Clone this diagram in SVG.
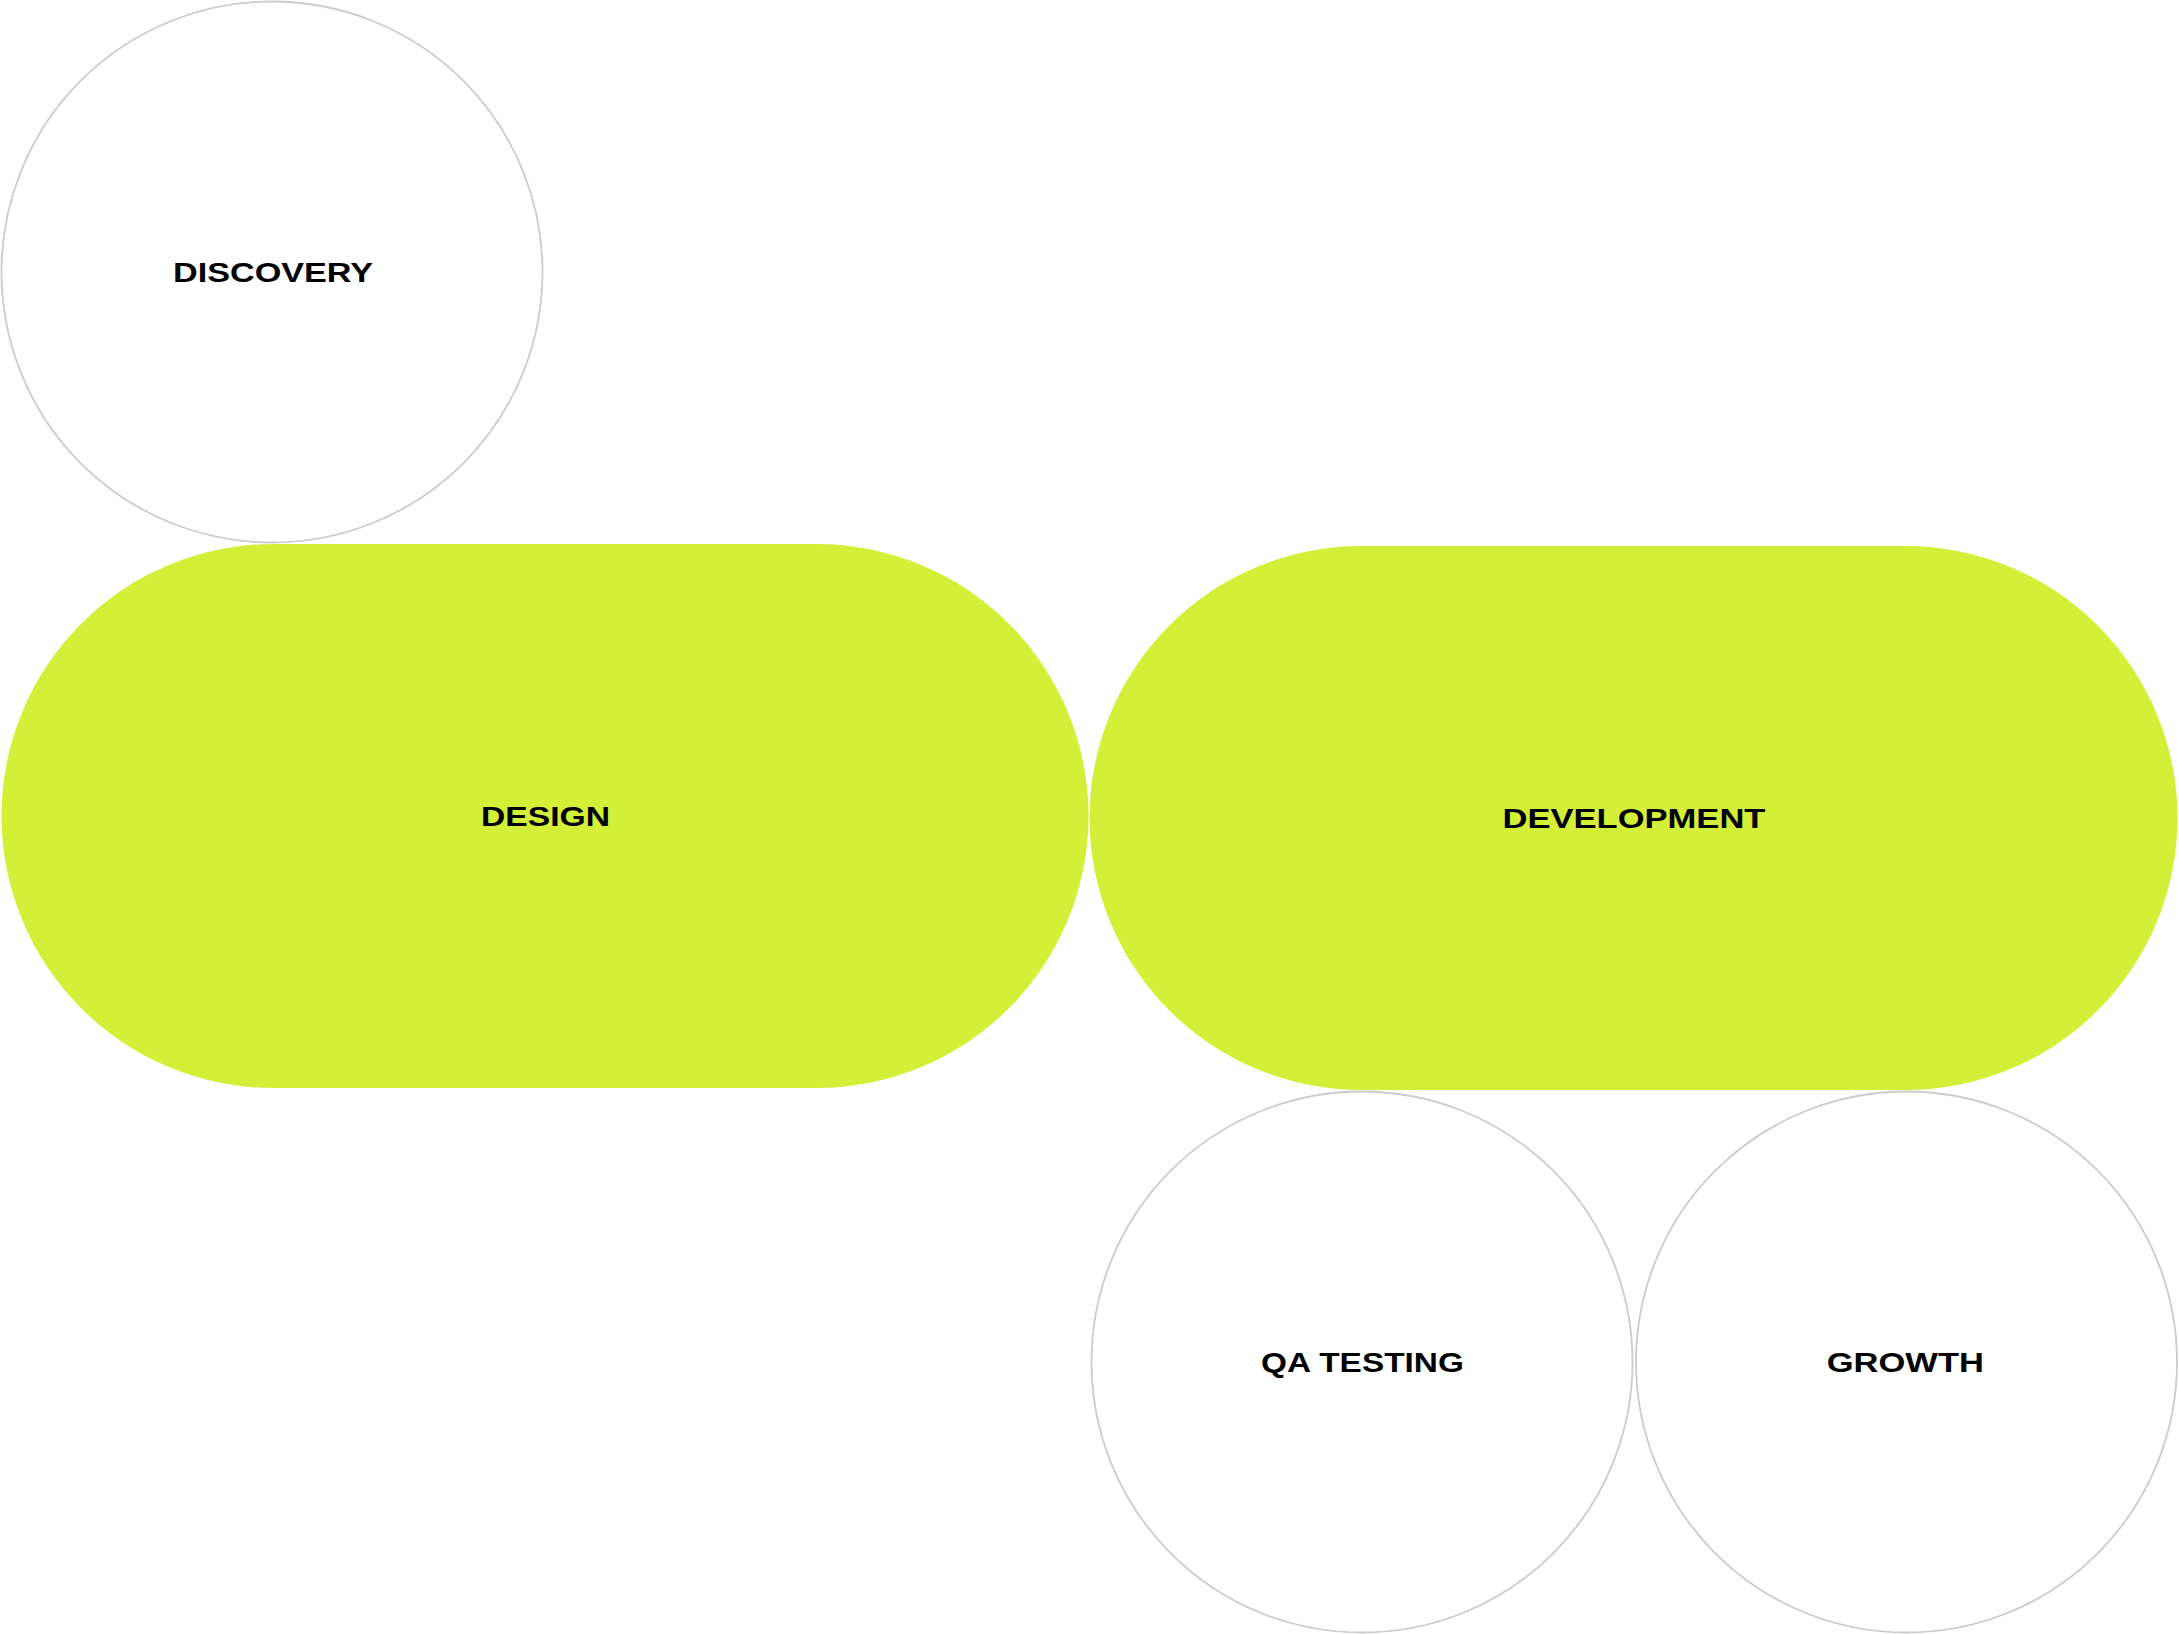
<svg xmlns="http://www.w3.org/2000/svg" width="2179" height="1634" viewBox="0 0 2179 1634">
<style>
.ring{fill:#ffffff;stroke:#cccccc;stroke-width:1.8}
.pill{fill:#d4ef37}
.lbl{font-family:"Liberation Sans",Arial,sans-serif;font-weight:bold;font-size:28px;fill:#000000;text-anchor:middle}
</style>
<rect width="2179" height="1634" fill="#ffffff"/>
<g id="connectors"></g>
<g id="design">
<rect class="pill" x="1.5" y="544" width="1087" height="544" rx="272" ry="272"/>
<text class="lbl" transform="translate(545.5 825.7) scale(1.2 1)" x="0" y="0" textLength="107.5" lengthAdjust="spacingAndGlyphs">DESIGN</text>
</g>
<g id="development">
<rect class="pill" x="1089.5" y="546" width="1088" height="544" rx="272" ry="272"/>
<text class="lbl" transform="translate(1634 827.7) scale(1.2 1)" x="0" y="0" textLength="219" lengthAdjust="spacingAndGlyphs">DEVELOPMENT</text>
</g>
<g id="discovery">
<circle class="ring" cx="272" cy="272" r="270.5"/>
<text class="lbl" transform="translate(273 282) scale(1.2 1)" x="0" y="0" textLength="166.7" lengthAdjust="spacingAndGlyphs">DISCOVERY</text>
</g>
<g id="qa-testing">
<circle class="ring" cx="1362" cy="1362" r="270.5"/>
<text class="lbl" transform="translate(1362.5 1371.5) scale(1.2 1)" x="0" y="0" textLength="169" lengthAdjust="spacingAndGlyphs">QA TESTING</text>
</g>
<g id="growth">
<circle class="ring" cx="1906.5" cy="1362" r="270.5"/>
<text class="lbl" transform="translate(1905.3 1371.5) scale(1.2 1)" x="0" y="0" textLength="131" lengthAdjust="spacingAndGlyphs">GROWTH</text>
</g>
</svg>
